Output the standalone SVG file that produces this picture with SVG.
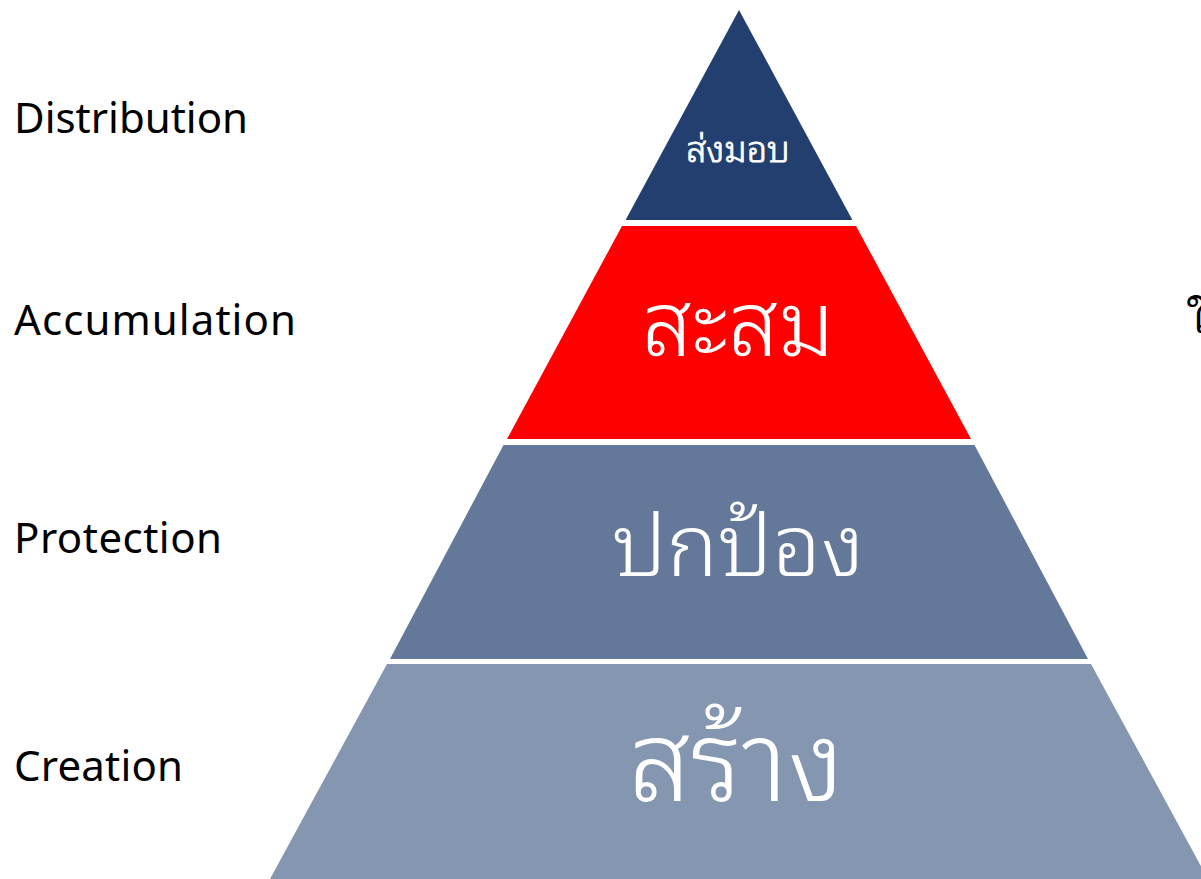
<svg xmlns="http://www.w3.org/2000/svg" width="1201" height="879" viewBox="0 0 1201 879">
<style>
.lbl{font-family:"Noto Sans","Liberation Sans",sans-serif;font-size:42px;fill:#000}
.th{font-family:"Noto Sans Thai Looped","Noto Serif Thai","Noto Sans Thai","Noto Sans",sans-serif;fill:#fff;text-anchor:middle;font-weight:300}
</style>
<rect width="1201" height="879" fill="#fff"/>
<g id="layer-distribution">
<polygon points="739,10 852.4,220 625.6,220" fill="#223F6F"/>
<text class="th" x="738" y="162" font-size="36" stroke="#fff" stroke-width="0.8">ส่งมอบ</text>
</g>
<g id="layer-accumulation">
<polygon points="622,226 856,226 971,439 507,439" fill="#FF0000"/>
<text class="th" x="738" y="356" font-size="90">สะสม</text>
</g>
<g id="layer-protection">
<polygon points="503.5,445 974.5,445 1088,659 390,659" fill="#647899"/>
<text class="th" x="738" y="576" font-size="86">ปกป้อง</text>
</g>
<g id="layer-creation">
<polygon points="387,664 1091,664 1208,879 270,879" fill="#8496B0"/>
<text class="th" x="736" y="801" font-size="112">สร้าง</text>
</g>
<g id="labels">
<text class="lbl" x="14" y="133" textLength="234">Distribution</text>
<text class="lbl" x="14" y="335" textLength="282">Accumulation</text>
<text class="lbl" x="14" y="553" textLength="208">Protection</text>
<text class="lbl" x="14" y="781" textLength="169">Creation</text>
<text class="lbl" x="1186" y="333" font-size="60">ใ</text>
</g>
</svg>
